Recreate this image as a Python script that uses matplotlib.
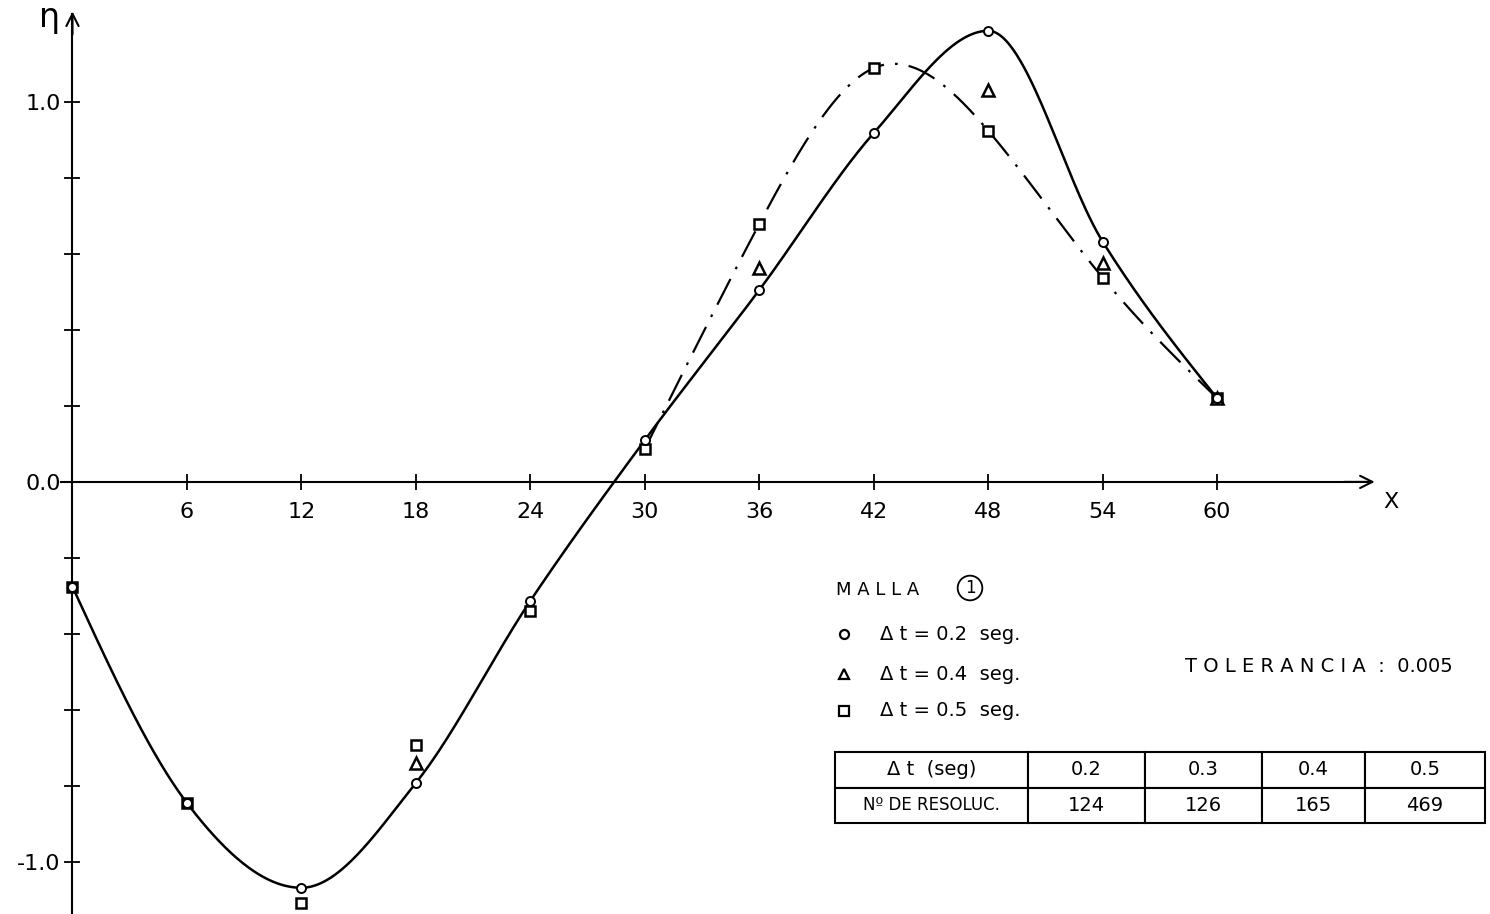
import numpy as np
import matplotlib.pyplot as plt

# nodal abscissae and free-surface elevation for each time step
X_NODES = [0, 6, 12, 18, 24, 30, 36, 42, 48, 54, 60]
ETA_02 = [-0.276, -0.845, -1.068, -0.792, -0.313, 0.110, 0.505, 0.918, 1.187, 0.632, 0.220]
ETA_05 = [-0.276, -0.845, -1.108, -0.692, -0.340, 0.087, 0.679, 1.089, 0.924, 0.537, 0.220]
X_TRI = [18, 36, 48, 54, 60]
ETA_04 = [-0.740, 0.563, 1.030, 0.576, 0.220]

X_TICKS = [6, 12, 18, 24, 30, 36, 42, 48, 54, 60]
Y_LABELED = {-1.0: "-1.0", 0.0: "0.0", 1.0: "1.0"}

DT_VALUES = ["0.2", "0.3", "0.4", "0.5"]
N_RESOL = [124, 126, 165, 469]

W, H = 1490, 914


def px(x, y):
    """pixel position -> figure fraction"""
    return x / W, 1 - y / H


def hermite(x, y, m, xs):
    idx = np.clip(np.searchsorted(x, xs) - 1, 0, len(x) - 2)
    h = x[idx + 1] - x[idx]
    t = (xs - x[idx]) / h
    h00 = 2 * t**3 - 3 * t**2 + 1
    h10 = t**3 - 2 * t**2 + t
    h01 = -2 * t**3 + 3 * t**2
    h11 = t**3 - t**2
    return h00 * y[idx] + h10 * h * m[idx] + h01 * y[idx + 1] + h11 * h * m[idx + 1]


def smooth_curve(x, y, xs):
    """Catmull-Rom type curve, flat at the local extrema of the nodes"""
    x = np.asarray(x, float)
    y = np.asarray(y, float)
    d = np.diff(y) / np.diff(x)
    m = np.zeros_like(y)
    m[1:-1] = (y[2:] - y[:-2]) / (x[2:] - x[:-2])
    m[1:-1][d[:-1] * d[1:] <= 0] = 0
    m[0] = 1.5 * d[0] - 0.5 * m[1]
    m[-1] = 1.5 * d[-1] - 0.5 * m[-2]
    return hermite(x, y, m, xs)


def natural_spline(x, y, xs):
    x = np.asarray(x, float)
    y = np.asarray(y, float)
    n = len(x)
    h = np.diff(x)
    A = np.zeros((n, n))
    b = np.zeros(n)
    A[0, 0] = A[-1, -1] = 1
    for i in range(1, n - 1):
        A[i, i - 1] = h[i - 1]
        A[i, i] = 2 * (h[i - 1] + h[i])
        A[i, i + 1] = h[i]
        b[i] = 6 * ((y[i + 1] - y[i]) / h[i] - (y[i] - y[i - 1]) / h[i - 1])
    M = np.linalg.solve(A, b)
    idx = np.clip(np.searchsorted(x, xs) - 1, 0, n - 2)
    hi = h[idx]
    a = (x[idx + 1] - xs) / hi
    c = (xs - x[idx]) / hi
    return (a * y[idx] + c * y[idx + 1]
            + ((a**3 - a) * M[idx] + (c**3 - c) * M[idx + 1]) * hi**2 / 6)


fig = plt.figure(figsize=(W / 100, H / 100), dpi=100)
ax = fig.add_axes([0, 0, 1, 1])
ax.set_xlim(-3.8, 74.3)
ax.set_ylim(-1.137, 1.268)

# axes through the origin
for side in ["top", "right"]:
    ax.spines[side].set_visible(False)
ax.spines["left"].set_position(("data", 0))
ax.spines["bottom"].set_position(("data", 0))
ax.spines["left"].set_bounds(-1.137, 1.23)
ax.spines["bottom"].set_bounds(-0.6, 68.0)
ax.spines["left"].set_linewidth(1.5)
ax.spines["bottom"].set_linewidth(1.5)
ax.patch.set_visible(False)

ax.set_xticks(X_TICKS)
ax.set_xticklabels([str(v) for v in X_TICKS])
yt = np.round(np.arange(-1.0, 1.01, 0.2), 1)
ax.set_yticks(yt)
ax.set_yticklabels([Y_LABELED.get(v, "") for v in yt])
ax.tick_params(axis="x", direction="inout", length=11, width=1.3,
               pad=9, labelsize=16)
ax.tick_params(axis="y", direction="inout", length=11, width=1.3,
               pad=3, labelsize=16)

ax.annotate("", xy=(0, 1.245), xytext=(0, 1.17),
            arrowprops=dict(arrowstyle="->", lw=1.5, color="k", mutation_scale=22))
ax.annotate("", xy=(68.4, 0), xytext=(66.5, 0),
            arrowprops=dict(arrowstyle="->", lw=1.5, color="k", mutation_scale=22))
fig.text(*px(50, 18), "η", fontsize=24, ha="center", va="center")
fig.text(*px(1391, 502), "X", fontsize=16, ha="center", va="center")

# dt = 0.2 curve (solid) and dt = 0.5 curve (dash-dot)
xs = np.linspace(0, 60, 600)
ax.plot(xs, smooth_curve(X_NODES, ETA_02, xs), color="k", lw=1.8, zorder=2)
xs2 = np.linspace(30, 60, 400)
ax.plot(xs2, natural_spline(X_NODES[5:], ETA_05[5:], xs2), color="k", lw=1.6,
        linestyle=(0, (13, 5, 1.2, 5)), zorder=2)

ax.plot(X_NODES, ETA_05, "s", ms=7, mfc="white", mec="k", mew=1.8, zorder=4)
ax.plot(X_TRI, ETA_04, "^", ms=8, mfc="white", mec="k", mew=1.8, zorder=4)
ax.plot(X_NODES, ETA_02, "o", ms=6.5, mfc="white", mec="k", mew=1.4, zorder=5)

# legend block
fig.text(*px(836, 590), "M A L L A", fontsize=13, va="center")
fig.text(*px(970, 588), "1", fontsize=12, ha="center", va="center",
         bbox=dict(boxstyle="circle,pad=0.2", fc="none", ec="k", lw=1.3))
legend_rows = [("o", 634, "Δ t = 0.2  seg."), ("^", 674, "Δ t = 0.4  seg."),
               ("s", 711, "Δ t = 0.5  seg.")]
for mk, yy, label in legend_rows:
    ax.plot(*px(844, yy), mk, ms=6.5, mfc="white", mec="k", mew=1.6,
            transform=fig.transFigure, clip_on=False)
    fig.text(*px(880, yy), label, fontsize=14, va="center")
fig.text(*px(1185, 667), "T O L E R A N C I A  :  0.005", fontsize=14, va="center")

# number of resolutions per time step
cells = [["Δ t  (seg)"] + DT_VALUES,
         ["Nº DE RESOLUC."] + [str(n) for n in N_RESOL]]
widths = np.array([193, 117, 117, 103, 120], float)
x0, y0 = px(835, 823)
tab = ax.table(cellText=cells, cellLoc="center", colWidths=list(widths / widths.sum()),
               bbox=[x0, y0, 650 / W, 71 / H], transform=fig.transFigure)
tab.auto_set_font_size(False)
tab.set_fontsize(14)
for (r, c), cell in tab.get_celld().items():
    cell.set_linewidth(1.5)
    if (r, c) == (1, 0):
        cell.get_text().set_fontsize(12)

fig.savefig("out.png", dpi=100)
